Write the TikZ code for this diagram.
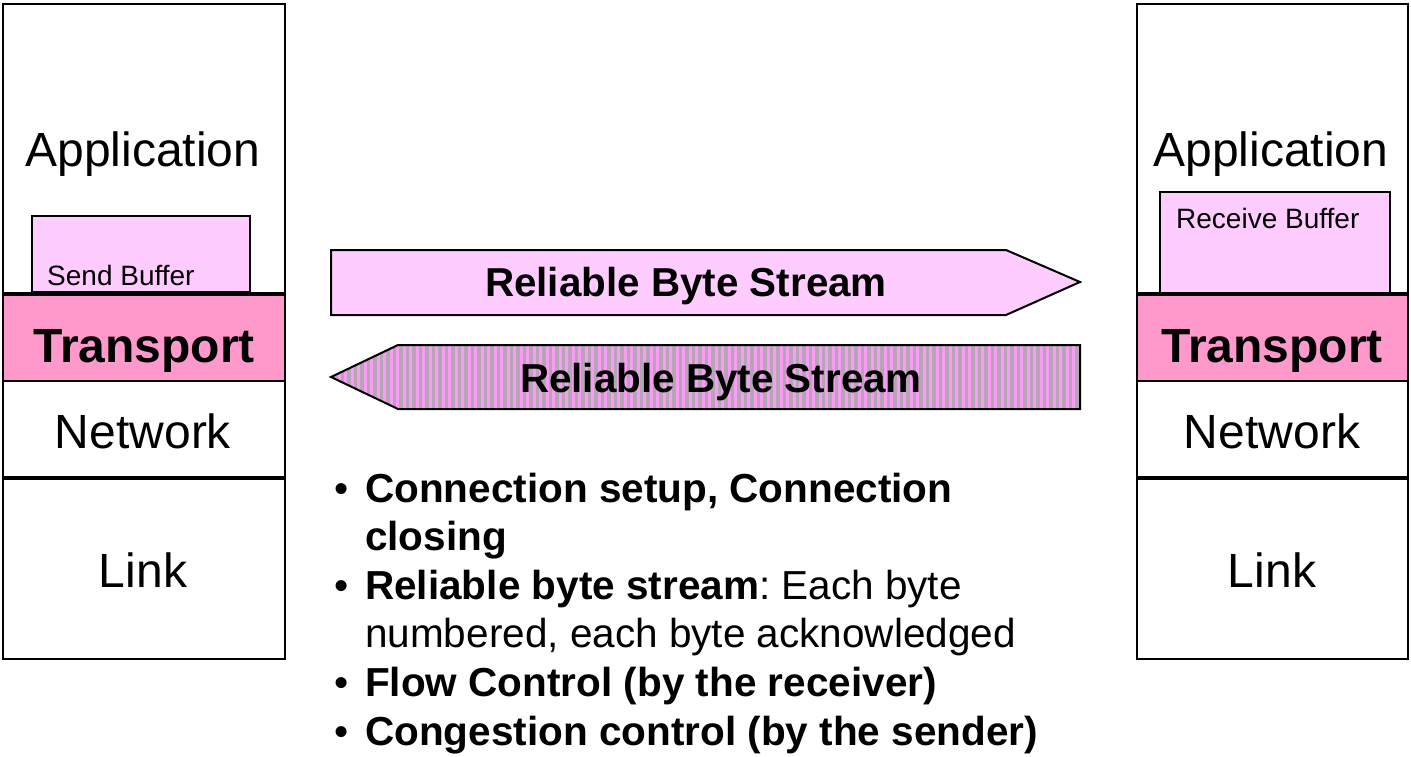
\documentclass[tikz,border=0pt]{standalone}
\usepackage{fontspec}
\setmainfont{Liberation Sans}
\definecolor{bufpink}{RGB}{255,204,255}
\definecolor{transpink}{RGB}{255,153,204}
\definecolor{stripepink}{RGB}{250,156,246}
\definecolor{stripegray}{RGB}{180,166,180}
\frenchspacing
\begin{document}
\begin{tikzpicture}[x=1pt,y=-1pt,
  big/.style={inner sep=0pt,anchor=base,font=\fontsize{48}{58}\selectfont},
  bigb/.style={inner sep=0pt,anchor=base,font=\fontsize{48}{58}\selectfont\bfseries},
  small/.style={inner sep=0pt,anchor=base west,font=\fontsize{28}{34}\selectfont},
  arrowtxt/.style={inner sep=0pt,anchor=base,font=\fontsize{40.4}{48}\selectfont\bfseries},
  bullettxt/.style={inner sep=0pt,anchor=base west,font=\fontsize{40.5}{48}\selectfont},
  outer/.style={draw=black,line width=2.5pt},
  septhick/.style={draw=black,line width=3.5pt},
  bufbox/.style={draw=black,line width=1.5pt,fill=bufpink},
  streamline/.style={draw=black,line width=2pt}]
\useasboundingbox (0,0) rectangle (1411,757);

% ---------- left stack ----------
\fill[transpink] (3,294) rectangle (285,381);
\path[bufbox] (32,216) rectangle (250,292);
\draw[outer] (3,4) rectangle (285,659);
\draw[septhick] (3,294) -- (285,294);
\draw[outer] (3,381) -- (285,381);
\draw[septhick] (3,478) -- (285,478);
\node[big] (lapp) at (143,167) {Application};
\node[small] (lbuf) at (47,285) {Send Buffer};
\node[bigb] (ltrans) at (144,362) {Transport};
\node[big] (lnet) at (143,448) {Network};
\node[big] (llink) at (143,587) {Link};

% ---------- right stack ----------
\fill[transpink] (1137,294) rectangle (1408,381);
\path[bufbox] (1160,192) rectangle (1390,293);
\draw[outer] (1137,4) rectangle (1408,659);
\draw[septhick] (1137,294) -- (1408,294);
\draw[outer] (1137,381) -- (1408,381);
\draw[septhick] (1137,478) -- (1408,478);
\node[big] (rapp) at (1271,167) {Application};
\node[small] (rbuf) at (1176,228) {Receive Buffer};
\node[bigb] (rtrans) at (1272,362) {Transport};
\node[big] (rnet) at (1272,448) {Network};
\node[big] (rlink) at (1272,587) {Link};

% ---------- upper stream arrow ----------
\path[streamline,fill=bufpink] (331,250) -- (1006,250) -- (1080,282) -- (1006,315) -- (331,315) -- cycle;
\node[arrowtxt] (up) at (686,296) {Reliable Byte Stream};

% ---------- lower stream arrow (striped) ----------
\begin{scope}
  \clip (331,377) -- (398,345) -- (1080,345) -- (1080,409) -- (398,409) -- cycle;
  \fill[stripepink] (331,345) rectangle (1080,409);
  \foreach \i in {0,...,116} {
    \fill[stripegray] ({331+6.5*\i+3.25},345) rectangle ({331+6.5*\i+6.5},409);
  }
\end{scope}
\path[streamline] (331,377) -- (398,345) -- (1080,345) -- (1080,409) -- (398,409) -- cycle;
\node[arrowtxt] (down) at (721,392) {Reliable Byte Stream};

% ---------- bullet list ----------
\node[bullettxt] (b1) at (334,502) {\textbullet};
\node[bullettxt] (t1) at (365,502) {\bfseries Connection setup, Connection};
\node[bullettxt] (t1b) at (365,550) {\bfseries closing};
\node[bullettxt] (b2) at (334,599) {\textbullet};
\node[bullettxt] (t2) at (365,599) {\textbf{Reliable byte stream}: Each byte};
\node[bullettxt] (t2b) at (365,647) {numbered, each byte acknowledged};
\node[bullettxt] (b3) at (334,696) {\textbullet};
\node[bullettxt] (t3) at (365,696) {\bfseries Flow Control (by the receiver)};
\node[bullettxt] (b4) at (334,745) {\textbullet};
\node[bullettxt] (t4) at (365,745) {\bfseries Congestion control (by the sender)};
\end{tikzpicture}
\end{document}
